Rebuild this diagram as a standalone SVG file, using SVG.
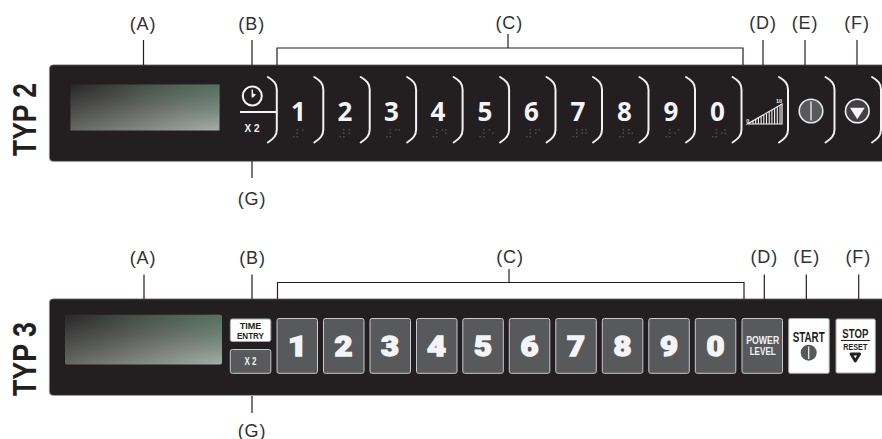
<svg xmlns="http://www.w3.org/2000/svg" xmlns:xlink="http://www.w3.org/1999/xlink" width="882" height="439" viewBox="0 0 882 439">
<style>
.lb{font:18px "Liberation Sans",Arial,sans-serif;fill:#333132;text-anchor:middle;letter-spacing:.9px}
.typ{font:bold 33px "Liberation Sans",Arial,sans-serif;fill:#231f20}
.ln{fill:none;stroke:#231f20;stroke-width:1.2}
.panel{fill:#231f20;stroke:#a7a9ac;stroke-width:.6}
.br{fill:none;stroke:#f1f1f2;stroke-width:2;stroke-linecap:round}
.d2{font:bold 26px "Open Sans","Noto Sans",sans-serif;fill:#f4f4f4;text-anchor:middle}
.d3{font:900 28px Roboto,"Liberation Sans",sans-serif;fill:#f4f4f4;text-anchor:middle;stroke:#f4f4f4;stroke-width:1.4}
.nar{font-family:"Liberation Sans",sans-serif;font-weight:bold;text-anchor:middle}
.key{fill:#58595b;stroke:#c8c9ca;stroke-width:1;}
.wkey{fill:#fff;stroke:#a7a9ac;stroke-width:1;}
.dk{fill:#231f20}.wt{fill:#f1f1f2}
.bd{fill:#4a4a4a}
.bar{stroke:#f1f1f2;stroke-width:1.1}
</style>
<defs>
<linearGradient id="disp" x1="0" y1="0" x2="1" y2="1"><stop offset="0" stop-color="#272727"/><stop offset=".5" stop-color="#666865"/><stop offset="1" stop-color="#a4aea7"/></linearGradient>
<linearGradient id="green" x1="0" y1="1" x2="1" y2="0"><stop offset=".5" stop-color="#3f7a5a" stop-opacity="0"/><stop offset="1" stop-color="#3f7a5a" stop-opacity=".45"/></linearGradient>
<path id="brk" class="br" d="M-9-8.500C-3-5 0-2 0 4V44C0 50-3 53-9 57"/>
<g id="ns"><rect class="bd" x="-5.500" y="7" width="1.600" height="1.600"/><rect class="bd" x="-2" y="0" width="1.600" height="1.600"/><rect class="bd" x="-2" y="3.500" width="1.600" height="1.600"/><rect class="bd" x="-2" y="7" width="1.600" height="1.600"/></g>
<rect id="p1" class="bd" x="3.500" y="0" width="1.600" height="1.600"/><rect id="p2" class="bd" x="3.500" y="3.500" width="1.600" height="1.600"/>
<rect id="p4" class="bd" x="7" y="0" width="1.600" height="1.600"/><rect id="p5" class="bd" x="7" y="3.500" width="1.600" height="1.600"/>
</defs>

<g id="typ2-title"><text class="typ" transform="translate(36 156) rotate(-90)" textLength="73" lengthAdjust="spacingAndGlyphs">TYP 2</text></g>
<g id="typ3-title"><text class="typ" transform="translate(36 396) rotate(-90)" textLength="74" lengthAdjust="spacingAndGlyphs">TYP 3</text></g>

<g id="typ2-panel"><rect class="panel" x="49.300" y="64.800" width="850" height="96.600" rx="4"/></g>
<g id="typ3-panel"><rect class="panel" x="49.300" y="298.800" width="850" height="96.600" rx="4"/></g>

<g id="connectors">
<path class="ln" d="M143.500 40V65M252 40V65M277 65V48H743V65M508 34V48M763 40V65M805 40V65M857 40V65M252 161V178"/>
<path class="ln" d="M144 274.500V299M252 274.500V299M277.500 299V282.500H744V299M509 269V282.500M764.300 274.500V299M806.300 274.500V299M858.700 274.500V299M252 396V413"/>
</g>

<g id="labels">
<text class="lb" x="143" y="29.500">(A)</text><text class="lb" x="251.700" y="29.500">(B)</text><text class="lb" x="509.300" y="28.500">(C)</text><text class="lb" x="763" y="28.500">(D)</text><text class="lb" x="805" y="28.500">(E)</text><text class="lb" x="857" y="28.500">(F)</text><text class="lb" x="252" y="204.500">(G)</text>
<text class="lb" x="143" y="263.500">(A)</text><text class="lb" x="252.500" y="263.500">(B)</text><text class="lb" x="510" y="263">(C)</text><text class="lb" x="764.300" y="263">(D)</text><text class="lb" x="806.700" y="263">(E)</text><text class="lb" x="858.300" y="263">(F)</text><text class="lb" x="252" y="437">(G)</text>
</g>

<g id="typ2-display"><rect x="70.500" y="84.500" width="149" height="46" fill="url(#disp)"/><rect x="70.500" y="84.500" width="149" height="46" fill="url(#green)"/></g>

<g id="typ2-B">
<circle cx="252.300" cy="96" r="9.500" fill="none" stroke="#f4f4f4" stroke-width="2"/>
<path d="M251.600 89.500H253V93.500L256 94.500L253 97.500H251.600Z" fill="#f4f4f4"/>
<path d="M240 112H277" stroke="#f4f4f4" stroke-width="1.800"/>
<text class="nar wt" x="252" y="131.700" font-size="10.500" textLength="15" lengthAdjust="spacingAndGlyphs">X 2</text>
</g>
<g id="typ2-brackets">
<use xlink:href="#brk" x="276.800" y="85.500"/><use xlink:href="#brk" x="323.300" y="85.500"/><use xlink:href="#brk" x="369.700" y="85.500"/><use xlink:href="#brk" x="416.100" y="85.500"/><use xlink:href="#brk" x="462.600" y="85.500"/><use xlink:href="#brk" x="509.100" y="85.500"/><use xlink:href="#brk" x="555.500" y="85.500"/><use xlink:href="#brk" x="602" y="85.500"/><use xlink:href="#brk" x="648.500" y="85.500"/><use xlink:href="#brk" x="695" y="85.500"/><use xlink:href="#brk" x="741.500" y="85.500"/><use xlink:href="#brk" x="788" y="85.500"/><use xlink:href="#brk" x="834.500" y="85.500"/><use xlink:href="#brk" x="881" y="85.500"/>
</g>
<g id="typ2-digits">
<text class="d2" x="298.500" y="121">1</text><text class="d2" x="345" y="121">2</text><text class="d2" x="391.500" y="121">3</text><text class="d2" x="438" y="121">4</text><text class="d2" x="485" y="121">5</text><text class="d2" x="531.500" y="121">6</text><text class="d2" x="578" y="121">7</text><text class="d2" x="624.500" y="121">8</text><text class="d2" x="671" y="121">9</text><text class="d2" x="717.500" y="121">0</text>
</g>
<g id="typ2-braille">
<g transform="translate(298.500 129)"><use xlink:href="#ns"/><use xlink:href="#p1"/></g>
<g transform="translate(345 129)"><use xlink:href="#ns"/><use xlink:href="#p1"/><use xlink:href="#p2"/></g>
<g transform="translate(391.500 129)"><use xlink:href="#ns"/><use xlink:href="#p1"/><use xlink:href="#p4"/></g>
<g transform="translate(438 129)"><use xlink:href="#ns"/><use xlink:href="#p1"/><use xlink:href="#p4"/><use xlink:href="#p5"/></g>
<g transform="translate(485 129)"><use xlink:href="#ns"/><use xlink:href="#p1"/><use xlink:href="#p5"/></g>
<g transform="translate(531.500 129)"><use xlink:href="#ns"/><use xlink:href="#p1"/><use xlink:href="#p2"/><use xlink:href="#p4"/></g>
<g transform="translate(578 129)"><use xlink:href="#ns"/><use xlink:href="#p1"/><use xlink:href="#p2"/><use xlink:href="#p4"/><use xlink:href="#p5"/></g>
<g transform="translate(624.500 129)"><use xlink:href="#ns"/><use xlink:href="#p1"/><use xlink:href="#p2"/><use xlink:href="#p5"/></g>
<g transform="translate(671 129)"><use xlink:href="#ns"/><use xlink:href="#p2"/><use xlink:href="#p4"/></g>
<g transform="translate(717.500 129)"><use xlink:href="#ns"/><use xlink:href="#p2"/><use xlink:href="#p4"/><use xlink:href="#p5"/></g>
</g>
<g id="typ2-D">
<path d="M747.500 124H782V104Z" fill="none" stroke="#f1f1f2" stroke-width="1.200"/>
<path class="bar" d="M753 124V121M755.700 124V119.500M758.400 124V118M761.100 124V116.500M763.800 124V115M766.500 124V113.500M769.200 124V111.500M771.900 124V110M774.600 124V108.500M777.300 124V107M780 124V105.500"/>
<text x="747.800" y="122.500" font-family="Liberation Sans,sans-serif" font-weight="bold" font-size="5.500" class="wt" text-anchor="middle">0</text>
<text x="779" y="103" font-family="Liberation Sans,sans-serif" font-weight="bold" font-size="5.500" class="wt" text-anchor="middle">10</text>
</g>
<g id="typ2-E"><circle cx="811" cy="111" r="11.800" fill="#58595b" stroke="#e6e7e8" stroke-width="1.600"/><path d="M811 101.500V120.500" stroke="#f1f1f2" stroke-width="1.300"/></g>
<g id="typ2-F"><circle cx="857.300" cy="111" r="11.800" fill="#414042" stroke="#f4f4f4" stroke-width="1.600"/><path d="M850 107.700H864.700L857.300 119.300Z" fill="#f4f4f4"/></g>

<g id="typ3-display"><rect x="65" y="314.800" width="157" height="49.700" rx="2" fill="url(#disp)"/><rect x="65" y="314.800" width="157" height="49.700" rx="2" fill="url(#green)"/></g>
<g id="typ3-B"><rect class="wkey" x="230.300" y="319" width="40.500" height="22.500" rx="2"/>
<text class="nar dk" x="250.500" y="328.700" font-size="9.500" textLength="21.700" lengthAdjust="spacingAndGlyphs">TIME</text><text class="nar dk" x="250.500" y="339.300" font-size="9.500" textLength="27" lengthAdjust="spacingAndGlyphs">ENTRY</text></g>
<g id="typ3-G"><rect class="key" x="230.300" y="349.500" width="40.500" height="23.800" rx="2"/><text class="nar wt" x="250.500" y="365" font-size="10" textLength="12" lengthAdjust="spacingAndGlyphs">X 2</text></g>
<g id="typ3-keys">
<rect class="key" x="277" y="318.500" width="40.500" height="54.800" rx="2"/><rect class="key" x="323.500" y="318.500" width="40.500" height="54.800" rx="2"/><rect class="key" x="370" y="318.500" width="40.500" height="54.800" rx="2"/><rect class="key" x="416.500" y="318.500" width="40.500" height="54.800" rx="2"/><rect class="key" x="462.800" y="318.500" width="40.500" height="54.800" rx="2"/><rect class="key" x="509.300" y="318.500" width="40.500" height="54.800" rx="2"/><rect class="key" x="555.800" y="318.500" width="40.500" height="54.800" rx="2"/><rect class="key" x="602.300" y="318.500" width="40.500" height="54.800" rx="2"/><rect class="key" x="648.800" y="318.500" width="40.500" height="54.800" rx="2"/><rect class="key" x="695.300" y="318.500" width="40.500" height="54.800" rx="2"/>
<text class="d3" x="297.500" y="356" textLength="19" lengthAdjust="spacingAndGlyphs">1</text><text class="d3" x="343.500" y="356" textLength="18" lengthAdjust="spacingAndGlyphs">2</text><text class="d3" x="390" y="356" textLength="18" lengthAdjust="spacingAndGlyphs">3</text><text class="d3" x="436.500" y="356" textLength="19" lengthAdjust="spacingAndGlyphs">4</text><text class="d3" x="483" y="356" textLength="18" lengthAdjust="spacingAndGlyphs">5</text><text class="d3" x="529.500" y="356" textLength="18" lengthAdjust="spacingAndGlyphs">6</text><text class="d3" x="576" y="356" textLength="18" lengthAdjust="spacingAndGlyphs">7</text><text class="d3" x="622.500" y="356" textLength="18" lengthAdjust="spacingAndGlyphs">8</text><text class="d3" x="669" y="356" textLength="18" lengthAdjust="spacingAndGlyphs">9</text><text class="d3" x="715.500" y="356" textLength="18" lengthAdjust="spacingAndGlyphs">0</text>
</g>
<g id="typ3-D"><rect class="key" x="742" y="318.500" width="40.500" height="54.800" rx="2"/><text class="nar wt" x="762.700" y="344.300" font-size="11.500" textLength="33" lengthAdjust="spacingAndGlyphs">POWER</text><text class="nar wt" x="762.700" y="355" font-size="11.500" textLength="26" lengthAdjust="spacingAndGlyphs">LEVEL</text></g>
<g id="typ3-E"><rect class="wkey" x="788.700" y="318.500" width="40.500" height="54.800" rx="1.500"/><text class="nar dk" x="808.700" y="341.500" font-size="14" textLength="32" lengthAdjust="spacingAndGlyphs">START</text><circle cx="808.700" cy="352.700" r="8" fill="#58595b"/><path d="M808.700 346.500V359" stroke="#f4f4f4" stroke-width="1.200"/></g>
<g id="typ3-F"><rect class="wkey" x="836" y="319" width="39.300" height="54" rx="1.500"/><text class="nar dk" x="855.300" y="337.800" font-size="12" textLength="26" lengthAdjust="spacingAndGlyphs">STOP</text><path d="M841 340.500H870" stroke="#231f20" stroke-width="1"/><text class="nar dk" x="855.300" y="350" font-size="9.500" textLength="24" lengthAdjust="spacingAndGlyphs">RESET</text>
<path d="M851 354H859.600L855.300 361Z" fill="#fff" stroke="#231f20" stroke-width="2.800" stroke-linejoin="round"/></g>
</svg>
